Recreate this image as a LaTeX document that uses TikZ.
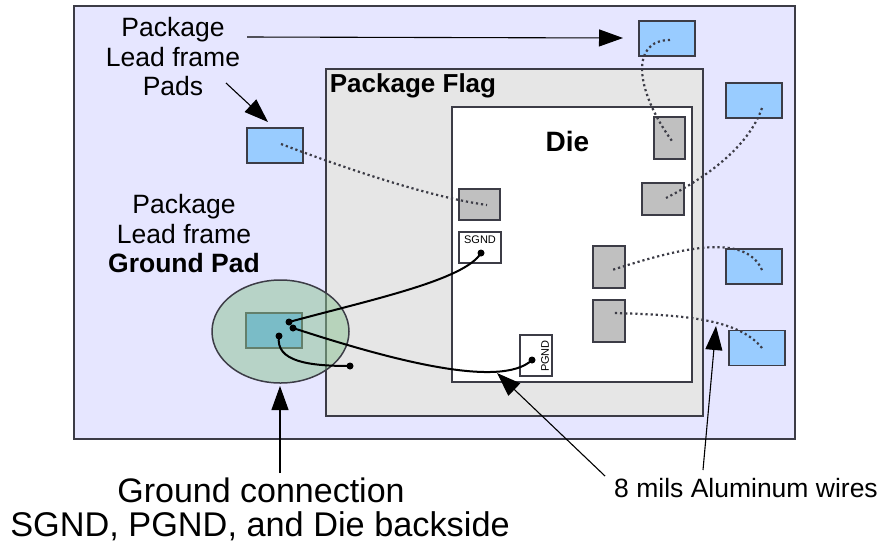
\documentclass[tikz,border=0pt]{standalone}
\usepackage{fontspec}
\setmainfont{Liberation Sans}
\usetikzlibrary{arrows.meta}
\definecolor{lav}{HTML}{E6E6FF}
\definecolor{flag}{HTML}{E6E6E6}
\definecolor{pad}{HTML}{99CCFF}
\definecolor{gpad}{HTML}{6AB6FF}
\definecolor{bond}{HTML}{C0C0C0}
\definecolor{halo}{HTML}{8AC291}
\definecolor{edge}{HTML}{3C3C46}
\tikzset{
  leadpad/.style={draw=edge,line width=1.3pt,fill=pad,inner sep=0pt},
  bondpad/.style={draw=edge,line width=1.3pt,fill=bond,inner sep=0pt},
  gndpad/.style={draw=edge,line width=1.3pt,fill=white,inner sep=0pt},
  tag/.style={align=center,inner sep=0pt,font=\fontsize{26.5}{29.5}\selectfont},
  wire/.style={line width=2pt,black},
  bondwire/.style={line width=2.2pt,edge,dash pattern=on 2.2pt off 2.9pt},
  wdot/.style={circle,fill=black,inner sep=0pt,minimum size=7pt},
  pointer/.style={-{Stealth[length=24pt,width=17pt,inset=0pt]},line width=1.1pt,black}
}
\begin{document}
\begin{tikzpicture}[x=1pt,y=-1pt]
\useasboundingbox (0,0) rectangle (883,550);

\draw[draw=edge,line width=1.5pt,fill=lav] (74,6) rectangle (795,439);
\draw[draw=edge,line width=1.5pt,fill=flag] (326,69) rectangle (703,416);
\draw[draw=edge,line width=1.5pt,fill=white] (452,107) rectangle (692,382);

\node(p1) at (667,38.5)[leadpad,minimum width=56pt,minimum height=35pt] {};
\node(p2) at (754,100.5)[leadpad,minimum width=56pt,minimum height=35pt] {};
\node(p3) at (754,266.5)[leadpad,minimum width=56pt,minimum height=35pt] {};
\node(p4) at (757,348)[leadpad,minimum width=56pt,minimum height=35pt] {};
\node(p5) at (275,145.5)[leadpad,minimum width=56pt,minimum height=35pt] {};
\node(g) at (274,330.5)[leadpad,fill=gpad,minimum width=56pt,minimum height=35pt] {};

\node(b1) at (669.5,138)[bondpad,minimum width=31pt,minimum height=42pt] {};
\node(b2) at (663,199)[bondpad,minimum width=42pt,minimum height=32pt] {};
\node(b3) at (609,267)[bondpad,minimum width=32pt,minimum height=42pt] {};
\node(b4) at (609,321)[bondpad,minimum width=32pt,minimum height=42pt] {};
\node(b5) at (479.5,204.5)[bondpad,minimum width=41pt,minimum height=31pt] {};

\node(s) at (480,247.5)[gndpad,minimum width=42pt,minimum height=31pt] {};
\node at (480,240)[font=\fontsize{11}{12}\selectfont,inner sep=0pt] {SGND};
\node(r) at (536,355.5)[gndpad,minimum width=32pt,minimum height=41pt] {};
\node at (545,356)[rotate=90,font=\fontsize{11}{12}\selectfont,inner sep=0pt] {PGND};

\fill[halo,fill opacity=0.5] (280.5,331.5) ellipse (68.5 and 51.5);
\draw[draw=edge,line width=1.5pt] (280.5,331.5) ellipse (68.5 and 51.5);

\coordinate (a1) at (670,40);
\coordinate (a2) at (672,141);
\coordinate (c1) at (762,108);
\coordinate (c2) at (666,198);
\coordinate (d1) at (762,270);
\coordinate (d2) at (612,270);
\coordinate (e1) at (762,348);
\coordinate (e2) at (614,313);
\coordinate (f1) at (281,144);
\coordinate (f2) at (487,205);

\draw[bondwire] (a1) .. controls (630,40) and (635,90) .. (a2);
\draw[bondwire] (c1) .. controls (748,148) and (705,178) .. (c2);
\draw[bondwire] (d1) .. controls (745,232) and (680,248) .. (d2);
\draw[bondwire] (e1) .. controls (738,318) and (680,315) .. (e2);
\draw[bondwire] (f1) .. controls (350,170) and (430,197) .. (f2);

\node(w1) at (289,322)[wdot] {};
\node(w2) at (481,253)[wdot] {};
\node(w3) at (293,328)[wdot] {};
\node(w4) at (532,360)[wdot] {};
\node(w5) at (279,336)[wdot] {};
\node(w6) at (350,366)[wdot] {};

\draw[wire] (w1.center) .. controls (370,300) and (465,280) .. (w2.center);
\draw[wire] (w3.center) .. controls (385,358) and (500,390) .. (w4.center);
\draw[wire] (w5.center) .. controls (275,362) and (310,366) .. (w6.center);

\node(t1) at (173,57)[tag] {Package\\Lead frame\\Pads};
\node(t2) at (184,234)[tag] {Package\\Lead frame\\\textbf{Ground Pad}};
\node(t3) at (413,86)[font=\fontsize{26}{28}\selectfont\bfseries,inner sep=0pt] {Package Flag};
\node(t4) at (567.5,141)[font=\fontsize{28}{28}\selectfont\bfseries,inner sep=0pt] {Die};
\node(t5) at (261,490)[font=\fontsize{34}{36}\selectfont,inner sep=0pt] {Ground connection};
\node(t6) at (260,526)[font=\fontsize{34.3}{36}\selectfont,inner sep=0pt] {SGND, PGND, and Die backside};
\node(t7) at (746,488)[font=\fontsize{26.5}{28}\selectfont,inner sep=0pt] {8 mils Aluminum wires};

\coordinate (h1) at (247,37);
\coordinate (h2) at (623,38);
\coordinate (h3) at (226,83);
\coordinate (h4) at (268,122);
\coordinate (h5) at (280,473);
\coordinate (h6) at (280,386);
\coordinate (h7) at (605,476);
\coordinate (h8) at (497,373);
\coordinate (h9) at (703,470);
\coordinate (h10) at (716,326);

\draw[pointer] (h1) -- (h2);
\draw[pointer] (h3) -- (h4);
\draw[pointer] (h5) -- (h6);
\draw[pointer] (h7) -- (h8);
\draw[pointer] (h9) -- (h10);

\end{tikzpicture}
\end{document}
